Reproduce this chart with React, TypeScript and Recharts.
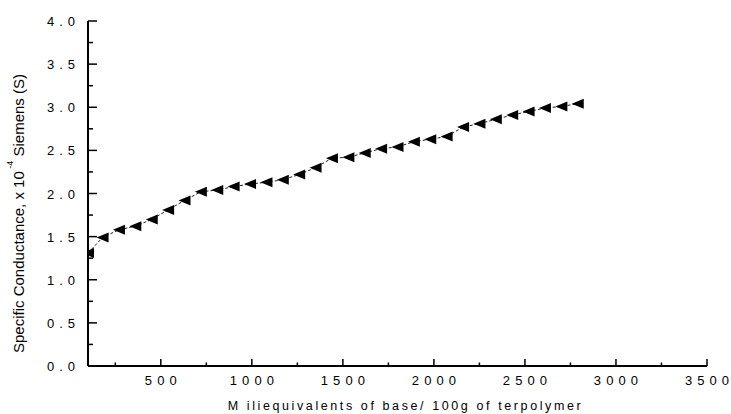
import { LineChart, Line, XAxis, YAxis, Label } from "recharts"

// milliequivalents of base / 100 g of terpolymer
const baseMeq = [
  100, 180, 270, 360, 450, 540, 630, 720, 810, 900, 990, 1080, 1170, 1260, 1350, 1440,
  1530, 1620, 1710, 1800, 1890, 1980, 2070, 2160, 2250, 2340, 2430, 2520, 2610, 2700, 2790,
]
// specific conductance, x 10^-4 S
const conductance = [
  1.31, 1.49, 1.58, 1.62, 1.7, 1.81, 1.92, 2.02, 2.04, 2.08, 2.11, 2.13, 2.16, 2.22, 2.3, 2.41,
  2.42, 2.47, 2.52, 2.54, 2.6, 2.63, 2.66, 2.77, 2.81, 2.86, 2.91, 2.95, 2.99, 3.01, 3.04,
]

const xTicks = [250, 500, 750, 1000, 1250, 1500, 1750, 2000, 2250, 2500, 2750, 3000, 3250, 3500]
const xLabels = ["500", "1000", "1500", "2000", "2500", "3000", "3500"]
const yTicks = [0, 0.25, 0.5, 0.75, 1, 1.25, 1.5, 1.75, 2, 2.25, 2.5, 2.75, 3, 3.25, 3.5, 3.75, 4]
const yLabels = ["0.0", "0.5", "1.0", "1.5", "2.0", "2.5", "3.0", "3.5", "4.0"]

const FONT = "'Liberation Sans', Arial, sans-serif"
const SPACING = 5

const data = baseMeq.map((x, i) => ({ x, y: conductance[i] }))

function XTick({ x, y, payload }: any) {
  const label = String(payload.value)
  const major = xLabels.includes(label)
  // spread digits like the original, without trailing space
  const len = label.length * 7.3 + (label.length - 1) * SPACING
  return (
    <g>
      <line x1={x} x2={x} y1={y} y2={y - (major ? 7 : 3.5)} stroke="#000" strokeWidth={1.5} />
      {major && (
        <text
          x={x - len / 2}
          y={y + 19}
          textLength={len}
          lengthAdjust="spacing"
          fontFamily={FONT}
          fontSize={13}
          fill="#000"
        >
          {label}
        </text>
      )}
    </g>
  )
}

function YTick({ x, y, payload }: any) {
  const label = Number(payload.value).toFixed(1)
  const major = Number(payload.value) % 0.5 === 0
  return (
    <g>
      <line x1={x} x2={x + (major ? 9 : 5)} y1={y} y2={y} stroke="#000" strokeWidth={1.5} />
      {major && yLabels.includes(label) && (
        <text
          x={x - 13 + SPACING}
          y={y + 5}
          textAnchor="end"
          fontFamily={FONT}
          fontSize={13}
          letterSpacing={SPACING}
          fill="#000"
        >
          {label}
        </text>
      )}
    </g>
  )
}

function XTitle({ viewBox }: any) {
  const cx = viewBox.x + viewBox.width / 2
  return (
    <text x={cx + 8} y={viewBox.y + 44} textAnchor="middle" fontFamily={FONT} fontSize={12.5} letterSpacing={2.6} fill="#000">
      M iliequivalents of base/ 100g of terpolymer
    </text>
  )
}

function YTitle({ viewBox }: any) {
  const cx = 18
  const cy = viewBox.y + viewBox.height / 2 + 20
  return (
    <text
      x={cx}
      y={cy}
      textAnchor="middle"
      dominantBaseline="central"
      transform={`rotate(-90, ${cx}, ${cy})`}
      fontFamily={FONT}
      fontSize={15}
      fill="#000"
    >
      Specific Conductance, x 10
      <tspan dy={-8} fontSize={9}>
        {" -4"}
      </tspan>
      <tspan dy={8}>{"  Siemens (S)"}</tspan>
    </text>
  )
}

function TriangleDot({ cx, cy }: any) {
  if (cx == null || cy == null) return null
  return <polygon points={`${cx - 6},${cy} ${cx + 6},${cy - 5} ${cx + 6},${cy + 5}`} fill="#000" />
}

export default function App() {
  return (
    <div style={{ position: "absolute", left: 0, top: 0, background: "#fff" }}>
      <LineChart width={731} height={414} data={data} margin={{ top: 21, right: 24, bottom: 0, left: 0 }}>
        <XAxis
          dataKey="x"
          type="number"
          domain={[100, 3500]}
          allowDataOverflow
          ticks={xTicks}
          interval={0}
          height={48}
          tickSize={0}
          tickMargin={0}
          tickLine={false}
          axisLine={{ stroke: "#000", strokeWidth: 2 }}
          tick={<XTick />}
        >
          <Label content={<XTitle />} />
        </XAxis>
        <YAxis
          type="number"
          domain={[0, 4]}
          ticks={yTicks}
          interval={0}
          width={88}
          tickSize={0}
          tickMargin={0}
          tickLine={false}
          axisLine={{ stroke: "#000", strokeWidth: 2 }}
          tick={<YTick />}
        >
          <Label content={<YTitle />} />
        </YAxis>
        <Line
          type="linear"
          dataKey="y"
          stroke="#222"
          strokeWidth={1}
          strokeDasharray="3 2"
          dot={<TriangleDot />}
          activeDot={false}
          isAnimationActive={false}
        />
      </LineChart>
    </div>
  )
}
